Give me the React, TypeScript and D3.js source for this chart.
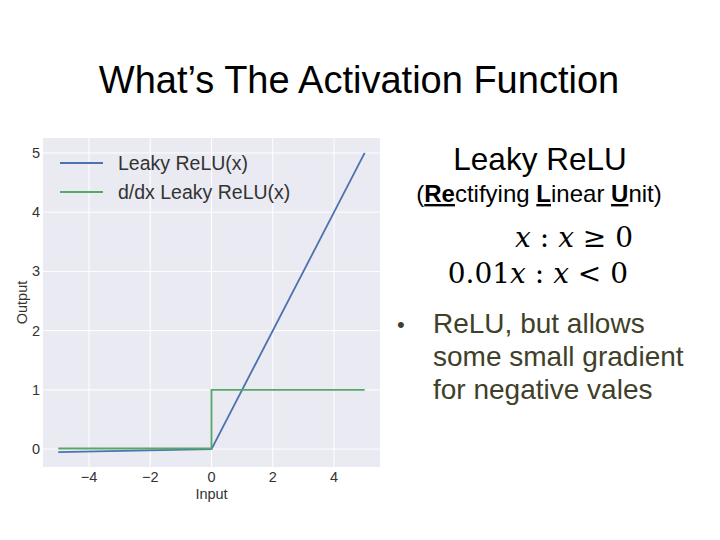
import React from 'react';
import * as d3 from 'd3';

// Leaky ReLU sampled at its break points
const leakyX = [-5, 0, 5];
const leakyY = [-0.05, 0, 5];
// derivative: step from 0.01 to 1 at x = 0
const derivX = [-5, 0, 0, 5];
const derivY = [0.01, 0.01, 1, 1];

const xTicks = [-4, -2, 0, 2, 4];
const yTicks = [0, 1, 2, 3, 4, 5];
const legendLabels = ['Leaky ReLU(x)', 'd/dx Leaky ReLU(x)'];
const seriesColors = ['#4C72B0', '#55A868'];
const bulletLines = ['ReLU, but allows', 'some small gradient', 'for negative vales'];

const W = 720;
const H = 540;
const plot = { left: 43, right: 380, top: 138, bottom: 467 };
const sans = 'Liberation Sans, Arial, sans-serif';
const serif = 'DejaVu Serif, Liberation Serif, serif';

export default function App() {
  const x = d3.scaleLinear().domain([-5.5, 5.5]).range([plot.left, plot.right]);
  const y = d3.scaleLinear().domain([-0.3025, 5.2525]).range([plot.bottom, plot.top]);

  const line = d3
    .line<[number, number]>()
    .x(d => x(d[0]))
    .y(d => y(d[1]));

  const leaky = leakyX.map((v, i) => [v, leakyY[i]] as [number, number]);
  const deriv = derivX.map((v, i) => [v, derivY[i]] as [number, number]);

  const tickColor = '#333';
  const bulletColor = '#3f3f2a';

  return (
    <svg
      width={W}
      height={H}
      style={{ position: 'absolute', left: 0, top: 0, background: '#fff' }}
      fontFamily={sans}
    >
      <text x={359} y={93} textAnchor="middle" fontSize={38} fill="#000">
        What’s The Activation Function
      </text>

      {/* plot panel */}
      <rect
        x={plot.left}
        y={plot.top}
        width={plot.right - plot.left}
        height={plot.bottom - plot.top}
        fill="#EAEAF2"
      />
      {xTicks.map(t => (
        <line key={'gx' + t} x1={x(t)} x2={x(t)} y1={plot.top} y2={plot.bottom} stroke="#fff" strokeWidth={1} />
      ))}
      {yTicks.map(t => (
        <line key={'gy' + t} x1={plot.left} x2={plot.right} y1={y(t)} y2={y(t)} stroke="#fff" strokeWidth={1} />
      ))}

      <path d={line(leaky) || ''} fill="none" stroke={seriesColors[0]} strokeWidth={1.8} />
      <path d={line(deriv) || ''} fill="none" stroke={seriesColors[1]} strokeWidth={1.8} />

      {/* tick labels */}
      {yTicks.map(t => (
        <text key={'ty' + t} x={40} y={y(t) + 5} textAnchor="end" fontSize={14.5} fill={tickColor}>
          {t}
        </text>
      ))}
      {xTicks.map(t => (
        <text key={'tx' + t} x={x(t)} y={482} textAnchor="middle" fontSize={14.5} fill={tickColor}>
          {t < 0 ? '\u2212' + Math.abs(t) : t}
        </text>
      ))}
      <text x={x(0)} y={499} textAnchor="middle" fontSize={14.5} fill={tickColor}>
        Input
      </text>
      <text
        transform={`translate(27, ${(plot.top + plot.bottom) / 2}) rotate(-90)`}
        textAnchor="middle"
        fontSize={14.5}
        fill={tickColor}
      >
        Output
      </text>

      {/* legend */}
      {legendLabels.map((lab, i) => (
        <g key={lab} transform={`translate(0, ${163 + i * 29})`}>
          <line x1={60} x2={103} y1={0} y2={0} stroke={seriesColors[i]} strokeWidth={2.2} />
          <text x={118} y={7} fontSize={19.5} fill={tickColor}>
            {lab}
          </text>
        </g>
      ))}

      {/* right side text */}
      <text x={540} y={170} textAnchor="middle" fontSize={31.5} fill="#000">
        Leaky ReLU
      </text>
      <text x={539} y={202} textAnchor="middle" fontSize={24} fill="#000">
        (
        <tspan fontWeight="bold" textDecoration="underline">Re</tspan>
        ctifying <tspan fontWeight="bold" textDecoration="underline">L</tspan>
        inear <tspan fontWeight="bold" textDecoration="underline">U</tspan>
        nit)
      </text>
      <text x={633} y={247} textAnchor="end" fontSize={28} fontFamily={serif} fill="#000">
        <tspan fontStyle="italic">x</tspan> : <tspan fontStyle="italic">x</tspan> ≥ 0
      </text>
      <text x={628} y={283} textAnchor="end" fontSize={28} fontFamily={serif} fill="#000">
        0.01<tspan fontStyle="italic">x</tspan> : <tspan fontStyle="italic">x</tspan> &lt; 0
      </text>

      <text x={397} y={332} fontSize={22} fill={bulletColor}>
        •
      </text>
      {bulletLines.map((s, i) => (
        <text key={s} x={433} y={333 + i * 33} fontSize={28} fill={bulletColor}>
          {s}
        </text>
      ))}
    </svg>
  );
}
